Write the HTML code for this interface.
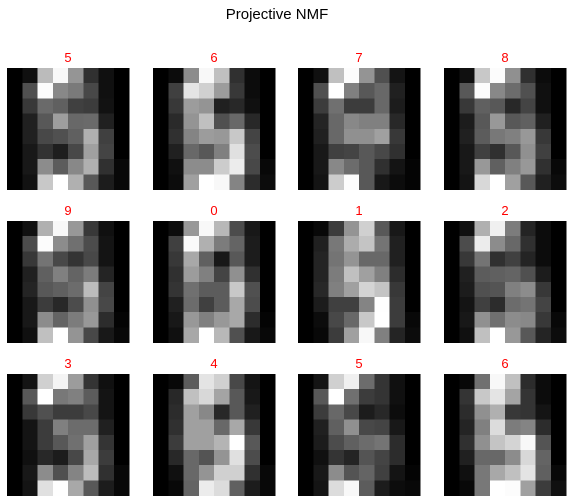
<!DOCTYPE html>
<html><head><meta charset="utf-8">
<style>
html,body{margin:0;padding:0;background:#fff;}
svg{display:block;}
</style></head>
<body>
<svg id="fig" width="572" height="503" viewBox="0 0 572 503" xmlns="http://www.w3.org/2000/svg">
<text x="277" y="19" text-anchor="middle" font-family="Liberation Sans, DejaVu Sans, sans-serif" font-size="15" fill="#000">Projective NMF</text>
</svg>
<script>
const titles = ["5","6","7","8","9","0","1","2","3","4","5","6"];
const img5a = ["00","10","bb","f8","95","30","10","00","00","50","fc","88","7a","48","10","00","00","38","6a","60","40","3c","12","00","00","20","58","9e","68","6a","20","00","00","20","48","50","60","b0","40","00","00","18","32","1e","48","a0","44","00","00","18","8c","5c","88","b0","30","08","00","12","c8","ff","b0","58","1c","08"];
const img6a = ["00","0c","8c","f8","c0","30","0c","00","00","40","e4","d0","9c","38","0c","00","00","38","9c","94","20","28","10","00","00","2a","94","c0","50","68","28","00","00","30","84","9c","98","c8","44","00","00","20","68","58","80","e0","4c","00","00","10","8c","8c","cc","ec","48","08","00","0c","a0","ff","f8","84","2c","0c"];
const img7 = ["00","10","c0","fc","94","50","14","00","00","50","ff","80","58","68","20","00","00","3c","70","3c","3c","68","1c","00","00","24","68","88","80","80","28","00","00","20","68","90","90","a0","38","00","00","18","40","44","58","48","30","00","00","18","88","6c","58","30","14","04","00","14","cc","fc","58","18","0c","04"];
const img8 = ["00","10","c8","fc","90","30","0c","00","00","58","fc","88","6c","50","10","00","00","38","60","58","28","44","10","00","00","1c","58","98","58","60","20","00","00","20","5c","78","80","98","38","00","00","18","40","30","58","90","40","00","00","18","98","60","80","98","30","08","00","14","d8","ff","a0","58","20","0c"];
const img9 = ["00","10","b0","f8","98","38","10","00","00","4c","fc","8c","70","4c","14","00","00","38","74","48","34","48","14","00","00","20","60","80","64","7c","24","00","00","24","58","60","6c","bc","44","00","00","18","3c","28","4c","90","48","00","00","18","8c","64","7c","98","2c","04","00","10","c0","ff","94","48","18","08"];
const img0 = ["00","0c","98","f8","b8","4c","18","00","00","40","fa","b0","7c","64","1c","00","00","38","a8","60","18","58","1c","00","00","30","9c","80","44","90","30","00","00","34","70","5c","5c","c8","50","00","00","20","6c","40","5c","a8","4c","00","00","18","98","80","98","a8","2c","04","00","10","a8","ff","b8","50","18","08"];
const img1 = ["00","08","3c","94","d0","58","18","00","00","20","78","ac","c4","74","20","00","00","24","74","94","68","68","20","00","00","24","7c","c0","a0","80","2c","00","00","28","80","a0","d4","c4","38","00","00","1c","40","40","84","fe","3c","00","00","0c","48","68","c8","ff","3c","08","00","08","3c","a0","f8","80","24","0c"];
const img2 = ["00","10","b0","f0","7c","24","0c","00","00","4c","ec","8c","68","30","0c","00","00","38","74","30","40","24","0c","00","00","20","5c","60","64","50","1c","00","00","1c","50","54","80","8c","38","00","00","14","40","2c","6c","74","44","00","00","18","90","70","8c","88","38","08","00","10","c0","ff","98","58","24","0c"];
const img3 = ["00","14","d0","f4","9c","34","10","00","00","58","ff","78","80","5c","14","00","00","38","50","3c","3c","48","14","00","00","14","3c","80","6c","6c","20","00","00","14","3c","58","70","a0","34","00","00","10","28","1c","48","a8","3c","00","00","18","8c","50","84","bc","30","08","00","14","e0","fe","a8","58","1c","08"];
const img4 = ["00","08","5c","e4","d0","48","14","00","00","28","c0","d8","a4","58","18","00","00","2c","a0","88","28","58","20","00","00","30","a0","a0","68","a8","38","00","00","3c","a0","a0","b4","ff","58","00","00","28","68","54","94","e0","4c","00","00","10","68","94","d0","d0","30","08","00","08","64","ec","dc","60","1c","08"];
const img5b = ["00","14","d0","f0","6c","34","10","00","00","58","ff","70","3c","34","10","00","00","3c","68","48","1c","28","0c","00","00","20","60","90","48","44","18","00","00","1c","4c","60","6c","74","2c","00","00","10","34","24","54","44","2c","00","00","18","8c","54","64","40","14","04","00","14","dc","f8","5c","1c","0c","08"];
const img6b = ["00","08","70","f8","c0","2c","0c","00","00","34","c8","e4","a4","34","0c","00","00","2c","90","b0","38","34","14","00","00","24","80","dc","7c","84","2c","00","00","30","90","c4","d4","f8","54","00","00","20","68","68","8c","d8","64","00","00","10","78","a8","c0","e4","60","08","00","08","78","ff","fc","a0","3c","10"];
const images = [img5a,img6a,img7,img8,img9,img0,img1,img2,img3,img4,img5b,img6b];

const NS = "http://www.w3.org/2000/svg";
const svg = document.getElementById('fig');
const colX = [7,153,298,444];
const rowY = [68,221,374];
const W = 122, H = 121.5;
function px(i){ return i * W / 8; }
function py(i){ return i * H / 8; }
images.forEach((img, k) => {
  const ox = colX[k % 4], oy = rowY[Math.floor(k / 4)];
  const g = document.createElementNS(NS, 'g');
  
  
  g.setAttribute('shape-rendering', 'crispEdges');
  img.forEach((v, j) => {
    const r = Math.floor(j / 8), c = j % 8;
    const rect = document.createElementNS(NS, 'rect');
    
    
    rect.setAttribute('x', ox + px(c));
    rect.setAttribute('y', oy + py(r));
    rect.setAttribute('width', px(c + 1) - px(c) + 0.3);
    rect.setAttribute('height', py(r + 1) - py(r) + 0.3);
    rect.setAttribute('fill', '#' + v + v + v);
    g.appendChild(rect);
  });
  const t = document.createElementNS(NS, 'text');
  
  
  t.setAttribute('x', ox + W / 2);
  t.setAttribute('y', oy - 6);
  t.setAttribute('text-anchor', 'middle');
  t.setAttribute('font-family', 'Liberation Sans, DejaVu Sans, sans-serif');
  t.setAttribute('font-size', '13');
  t.setAttribute('fill', '#ff0000');
  t.textContent = titles[k];
  g.appendChild(t);
  svg.appendChild(g);
});
</script>
</body></html>
